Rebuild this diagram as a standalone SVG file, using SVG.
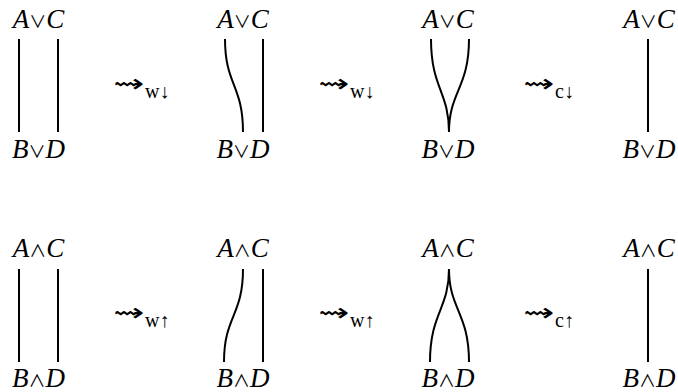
<svg xmlns="http://www.w3.org/2000/svg" width="678" height="392" viewBox="0 0 678 392">
<style>
text{font-family:"Liberation Serif",serif;fill:#000}
.f{font-size:27px;text-anchor:middle}
.i{font-style:italic}
.op{font-family:"Noto Sans CJK JP","DejaVu Sans",sans-serif;font-size:17px}
.lt{font-family:"DejaVu Sans",sans-serif;font-size:25px}
.sb{font-size:20px}
.s{fill:none;stroke:#000;stroke-width:2;stroke-linecap:butt}
</style>
<rect width="678" height="392" fill="#fff"/>
<g id="connectors">
<path class="s" d="M19,39V132M58,39V132"/>
<path class="s" d="M225,39C225,85 243,85 243,132M263,39V132"/>
<path class="s" d="M431,39C431,88 449,92 449,132M469,39C469,88 449,92 449,132"/>
<path class="s" d="M648,39V132"/>
<path class="s" d="M19,269V362M58,269V362"/>
<path class="s" d="M243,269C243,316 224,316 224,362M263,269V362"/>
<path class="s" d="M449,269C449,309 430,313 430,362M449,269C449,309 469,313 469,362"/>
<path class="s" d="M648,269V362"/>
</g>
<g id="n1t"><text class="f" x="38.5" y="28"><tspan class="i">A</tspan><tspan class="op">∨</tspan><tspan class="i">C</tspan></text></g>
<g id="n1b"><text class="f" x="38.5" y="158"><tspan class="i">B</tspan><tspan class="op">∨</tspan><tspan class="i">D</tspan></text></g>
<g id="n2t"><text class="f" x="243" y="28"><tspan class="i">A</tspan><tspan class="op">∨</tspan><tspan class="i">C</tspan></text></g>
<g id="n2b"><text class="f" x="243" y="158"><tspan class="i">B</tspan><tspan class="op">∨</tspan><tspan class="i">D</tspan></text></g>
<g id="n3t"><text class="f" x="448" y="28"><tspan class="i">A</tspan><tspan class="op">∨</tspan><tspan class="i">C</tspan></text></g>
<g id="n3b"><text class="f" x="448" y="158"><tspan class="i">B</tspan><tspan class="op">∨</tspan><tspan class="i">D</tspan></text></g>
<g id="n4t"><text class="f" x="649" y="28"><tspan class="i">A</tspan><tspan class="op">∨</tspan><tspan class="i">C</tspan></text></g>
<g id="n4b"><text class="f" x="649" y="158"><tspan class="i">B</tspan><tspan class="op">∨</tspan><tspan class="i">D</tspan></text></g>
<g id="n5t"><text class="f" x="38.5" y="257"><tspan class="i">A</tspan><tspan class="op">∧</tspan><tspan class="i">C</tspan></text></g>
<g id="n5b"><text class="f" x="38.5" y="387"><tspan class="i">B</tspan><tspan class="op">∧</tspan><tspan class="i">D</tspan></text></g>
<g id="n6t"><text class="f" x="243" y="257"><tspan class="i">A</tspan><tspan class="op">∧</tspan><tspan class="i">C</tspan></text></g>
<g id="n6b"><text class="f" x="243" y="387"><tspan class="i">B</tspan><tspan class="op">∧</tspan><tspan class="i">D</tspan></text></g>
<g id="n7t"><text class="f" x="448" y="257"><tspan class="i">A</tspan><tspan class="op">∧</tspan><tspan class="i">C</tspan></text></g>
<g id="n7b"><text class="f" x="448" y="387"><tspan class="i">B</tspan><tspan class="op">∧</tspan><tspan class="i">D</tspan></text></g>
<g id="n8t"><text class="f" x="649" y="257"><tspan class="i">A</tspan><tspan class="op">∧</tspan><tspan class="i">C</tspan></text></g>
<g id="n8b"><text class="f" x="649" y="387"><tspan class="i">B</tspan><tspan class="op">∧</tspan><tspan class="i">D</tspan></text></g>
<g id="r1"><text class="lt" x="113" y="92" textLength="31" lengthAdjust="spacingAndGlyphs">⇝</text><text class="sb" x="145" y="98">w↓</text></g>
<g id="r2"><text class="lt" x="318" y="92" textLength="31" lengthAdjust="spacingAndGlyphs">⇝</text><text class="sb" x="350" y="98">w↓</text></g>
<g id="r3"><text class="lt" x="523" y="92" textLength="31" lengthAdjust="spacingAndGlyphs">⇝</text><text class="sb" x="555" y="98">c↓</text></g>
<g id="r4"><text class="lt" x="113" y="321" textLength="31" lengthAdjust="spacingAndGlyphs">⇝</text><text class="sb" x="145" y="327">w↑</text></g>
<g id="r5"><text class="lt" x="318" y="321" textLength="31" lengthAdjust="spacingAndGlyphs">⇝</text><text class="sb" x="350" y="327">w↑</text></g>
<g id="r6"><text class="lt" x="523" y="321" textLength="31" lengthAdjust="spacingAndGlyphs">⇝</text><text class="sb" x="555" y="327">c↑</text></g>
</svg>
